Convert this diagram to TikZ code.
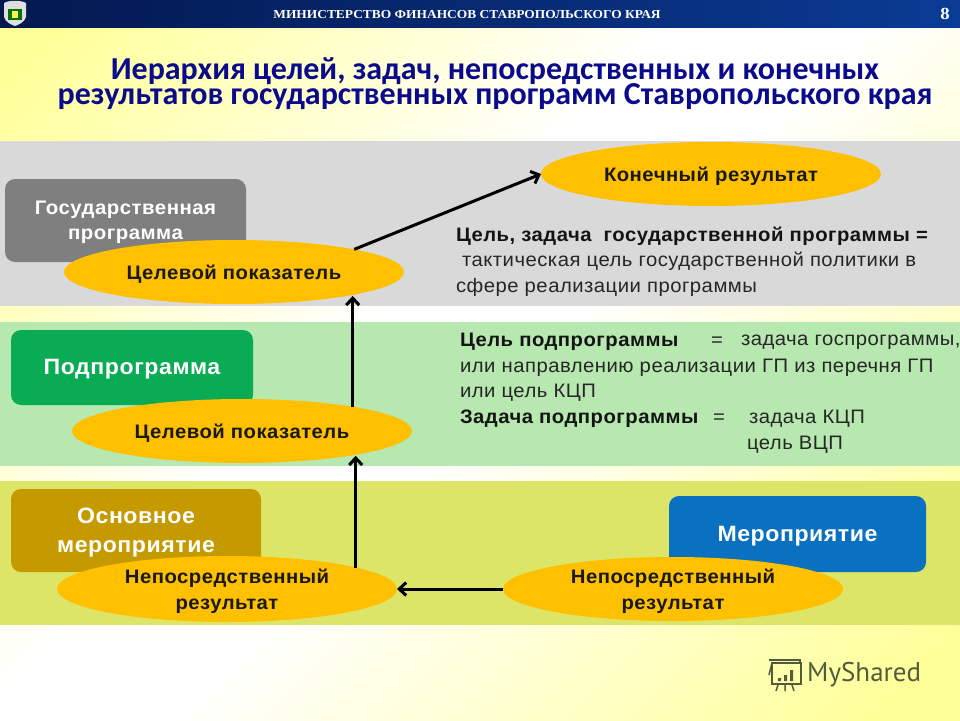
\documentclass[tikz,border=0pt]{standalone}
\usepackage{fontspec}
\setmainfont[FakeStretch=1.04,LetterSpace=2.5]{Liberation Sans}
\newfontfamily\ttlfont{Carlito}
\newfontfamily\hdrfont[FakeStretch=1.1]{Liberation Serif}
\newfontfamily\wmfont{PT Sans}
\usetikzlibrary{shapes.geometric,arrows.meta}
\newcommand\dn[1]{\raisebox{-2pt}[\height][\depth]{#1}}
\definecolor{bandgray}{HTML}{D9D9D9}
\definecolor{bandgreen}{HTML}{B7E8B0}
\definecolor{bandolive}{HTML}{DDE568}
\definecolor{bgyellow}{HTML}{FFFF99}
\definecolor{navyL}{HTML}{03184F}
\definecolor{navyR}{HTML}{0A3B94}
\definecolor{titleblue}{HTML}{0A0A8C}
\definecolor{ellfill}{HTML}{FFC000}
\definecolor{boxgray}{HTML}{7F7F7F}
\definecolor{boxgreen}{HTML}{0AAB55}
\definecolor{boxgold}{HTML}{C49A00}
\definecolor{boxblue}{HTML}{0A70C0}
\definecolor{wmgray}{HTML}{505C3C}
\pgfdeclareverticalshading{pagebg}{100bp}{
  color(0bp)=(bgyellow); color(18bp)=(bgyellow); color(48bp)=(white); color(56bp)=(white); color(82bp)=(bgyellow); color(100bp)=(bgyellow)}
\tikzset{
  rbox/.style={draw=none,rounded corners=10pt,inner sep=0pt,outer sep=0pt,align=center,text=white,font=\bfseries\fontsize{22.2}{29}\selectfont},
  goal/.style={ellipse,fill=ellfill,draw=none,inner sep=0pt,outer sep=0pt,align=center,text=black!90,font=\bfseries\fontsize{19.5}{26}\selectfont},
  flow/.style={draw=black,line width=3pt,-{Straight Barb[length=7pt,width=13pt,line width=3pt]}},
  note/.style={anchor=west,inner sep=0pt,outer sep=0pt,text=black!85,font=\fontsize{19.5}{22}\selectfont},
  noteb/.style={note,text=black!92,font=\bfseries\fontsize{19.5}{22}\selectfont},
}
\begin{document}
\begin{tikzpicture}[x=1pt,y=-1pt]
\useasboundingbox (0,0) rectangle (960,720);
% page background
\shade[shading=pagebg,shading angle=45] (0,0) rectangle (960,720);
% header
\shade[left color=navyL,right color=navyR] (0,0) rectangle (960,27);
\node[text=white,font=\hdrfont\bfseries\fontsize{12.2}{14}\selectfont] (hdr) at (467,15) {МИНИСТЕРСТВО ФИНАНСОВ СТАВРОПОЛЬСКОГО КРАЯ};
\node[text=white,font=\hdrfont\bfseries\fontsize{17}{19}\selectfont] (pg) at (945,14) {8};
% emblem
\fill[white!75!gray] (4,3) .. controls (9,0) and (21,0) .. (26,3) -- (26,17) .. controls (25,22) and (18,25) .. (15,26) .. controls (12,25) and (5,22) .. (4,17) -- cycle;
\fill[green!45!black] (8,9) rectangle (22,20);
\fill[yellow!70!white] (12,11) rectangle (18,18);
% title
\node[text=titleblue,align=center,inner sep=0pt,font=\ttlfont\bfseries\fontsize{32}{25}\selectfont] (ttl) at (495,83.5) {Иерархия целей, задач, непосредственных и конечных\\[-1.5pt]результатов государственных программ Ставропольского края};
% bands
\fill[bandgray] (0,141) rectangle (960,306);
\fill[bandgreen] (0,322) rectangle (960,466);
\fill[bandolive] (0,481) rectangle (960,625);
% boxes
\node[rbox,fill=boxgray,minimum width=241pt,minimum height=83pt,font=\bfseries\fontsize{19.6}{25}\selectfont] (gp) at (125.5,220.5) {\dn{Государственная}\\\dn{программа}};
\node[rbox,fill=boxgreen,minimum width=242pt,minimum height=75pt] (pp) at (132,367.5) {\dn{Подпрограмма}};
\node[rbox,fill=boxgold,minimum width=250pt,minimum height=83pt] (om) at (136,530.5) {\dn{Основное}\\\dn{мероприятие}};
\node[rbox,fill=boxblue,minimum width=257pt,minimum height=76pt] (me) at (797.5,534) {\dn{Мероприятие}};
% ellipses
\node[goal,minimum width=340pt,minimum height=64pt] (res) at (711,174) {\dn{Конечный результат}};
\node[goal,minimum width=340pt,minimum height=64pt] (tg1) at (234,272) {\dn{Целевой показатель}};
\node[goal,minimum width=340pt,minimum height=64pt] (tg2) at (242,431) {\dn{Целевой показатель}};
\node[goal,minimum width=340pt,minimum height=66pt] (nr1) at (227,589) {\dn{Непосредственный}\\\dn{результат}};
\node[goal,minimum width=340pt,minimum height=64pt] (nr2) at (673,589) {\dn{Непосредственный}\\\dn{результат}};
% connectors
\coordinate (up1) at ([xshift=-2pt]tg2.12.7);
\coordinate (up2) at ([xshift=-3pt]nr1.9.9);
\draw[flow] (tg1.north east) -- (res.west);
\draw[flow] (up1) -- (up1 |- tg1.-12);
\draw[flow] (up2) -- (up2 |- tg2.-13);
\draw[flow] (nr2.west) -- (nr1.east);
% notes
\node[noteb] (n1) at (456,236.5) {Цель, задача\hspace{6pt} государственной программы =};
\node[note] (n2) at (462,261.5) {тактическая цель государственной политики в};
\node[note] (n3) at (456,287) {сфере реализации программы};
\node[noteb] (n4) at (460,342) {Цель подпрограммы};
\node[note] (n4b) at (711,342) {=};
\node[note] (n4c) at (741,342) {задача госпрограммы,};
\node[note] (n5) at (460,367.5) {или направлению реализации ГП из перечня ГП};
\node[note] (n6) at (460,393) {или цель КЦП};
\node[noteb] (n7) at (460,419) {Задача подпрограммы};
\node[note] (n7b) at (713,419) {=};
\node[note] (n7c) at (749,419) {задача КЦП};
\node[note] (n8) at (747,445) {цель ВЦП};
% watermark
\node[anchor=west,inner sep=0pt,text=wmgray,font=\wmfont\fontsize{27}{30}\selectfont] (wm) at (807,675) {MyShared};
\begin{scope}[draw=wmgray,line width=1.5pt]
\draw (772,663) rectangle (801,684);
\draw (772,663) -- (769,675);
\draw (769,660) -- (800,660) -- (800,664);
\draw (778,685) -- (776,691) (785,685) -- (785,691) (792,685) -- (794,691);
\fill[wmgray] (778,678) rectangle (781,681) (784,675) rectangle (787,681) (790,670) rectangle (793,681);
\end{scope}
\end{tikzpicture}
\end{document}
